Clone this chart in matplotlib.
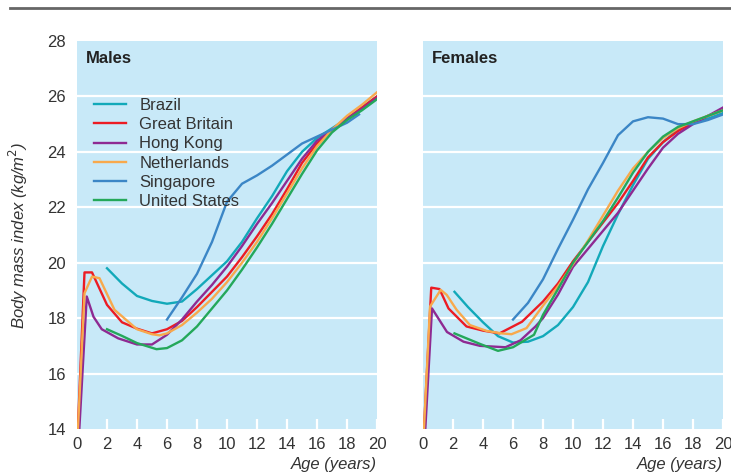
import matplotlib
matplotlib.use('Agg')
import matplotlib.pyplot as plt

# font: narrow sans like the original, fall back to DejaVu
plt.rcParams['font.family'] = ['Liberation Sans Narrow', 'Liberation Sans', 'DejaVu Sans']

countries = ['Brazil', 'Great Britain', 'Hong Kong', 'Netherlands', 'Singapore', 'United States']
colors = ['#12a9b9', '#ec1c24', '#8e2a92', '#f8a94c', '#3b86c6', '#24a85a']

# ---- males (age, bmi) ----
m_brazil_age = [2, 3, 4, 5, 6, 7, 8, 9, 10, 11, 12, 13, 14, 15, 16, 17, 18, 19, 20]
m_brazil_bmi = [19.8, 19.25, 18.8, 18.62, 18.52, 18.6, 19.05, 19.55, 20.05, 20.75, 21.6, 22.4, 23.3, 24.0, 24.5, 24.85, 25.2, 25.6, 26.0]

m_gb_age = [0, 0.5, 1.0, 2, 3, 4, 5, 6, 7, 8, 9, 10, 11, 12, 13, 14, 15, 16, 17, 18, 19, 20]
m_gb_bmi = [13.3, 19.65, 19.65, 18.48, 17.85, 17.62, 17.45, 17.6, 17.9, 18.4, 18.95, 19.5, 20.2, 20.95, 21.75, 22.65, 23.6, 24.3, 24.8, 25.2, 25.6, 26.0]

m_hk_age = [0, 0.65, 1.1, 1.65, 2.75, 4, 5, 6, 7, 8, 9, 10, 11, 12, 13, 14, 15, 16, 17, 18, 19, 20]
m_hk_bmi = [12.5, 18.78, 18.05, 17.6, 17.27, 17.05, 17.05, 17.4, 17.95, 18.6, 19.2, 19.86, 20.6, 21.4, 22.15, 22.95, 23.75, 24.4, 24.8, 25.2, 25.55, 25.95]

m_nl_age = [0, 0.5, 1.0, 1.5, 2.5, 4, 5, 5.5, 6, 7, 8, 9, 10, 11, 12, 13, 14, 15, 16, 17, 18, 19, 20]
m_nl_bmi = [13.3, 18.9, 19.5, 19.44, 18.3, 17.6, 17.42, 17.38, 17.45, 17.75, 18.2, 18.7, 19.3, 20.0, 20.75, 21.6, 22.5, 23.4, 24.2, 24.8, 25.3, 25.7, 26.15]

m_sg_age = [6, 7, 8, 9, 10, 11, 12, 13, 14, 15, 16, 17, 18, 18.8]
m_sg_bmi = [17.95, 18.75, 19.6, 20.75, 22.2, 22.85, 23.15, 23.5, 23.9, 24.3, 24.55, 24.8, 25.05, 25.35]

m_us_age = [2, 3, 4, 5.3, 6, 7, 8, 9, 10, 11, 12, 13, 14, 15, 16, 17, 18, 19, 20]
m_us_bmi = [17.6, 17.36, 17.1, 16.88, 16.92, 17.2, 17.7, 18.35, 19.0, 19.75, 20.55, 21.4, 22.3, 23.2, 24.05, 24.7, 25.15, 25.5, 25.9]

# ---- females ----
f_brazil_age = [2.1, 3, 4, 5, 6, 7, 8, 9, 10, 11, 12, 13, 14, 15, 16, 17, 18, 19, 20]
f_brazil_bmi = [18.95, 18.4, 17.85, 17.35, 17.12, 17.15, 17.35, 17.75, 18.4, 19.3, 20.6, 21.75, 22.8, 23.75, 24.35, 24.8, 25.05, 25.2, 25.4]

f_gb_age = [0, 0.55, 1.1, 1.7, 2.9, 4, 5.1, 6.6, 8, 9, 10, 11, 12, 13, 14, 15, 16, 17, 18, 19, 20]
f_gb_bmi = [13.3, 19.1, 19.05, 18.35, 17.7, 17.55, 17.45, 17.87, 18.6, 19.25, 20.05, 20.75, 21.45, 22.15, 22.95, 23.8, 24.35, 24.75, 25.05, 25.3, 25.5]

f_hk_age = [0, 0.6, 1.6, 2.7, 3.8, 5.5, 6.5, 7.5, 8, 9, 10, 11, 12, 13, 14, 15, 16, 17, 18, 19, 20]
f_hk_bmi = [12.5, 18.35, 17.5, 17.15, 17.0, 16.95, 17.2, 17.7, 18.0, 18.85, 19.85, 20.5, 21.15, 21.8, 22.6, 23.4, 24.15, 24.65, 25.0, 25.3, 25.6]

f_nl_age = [0, 0.47, 1.18, 1.58, 2.24, 3.13, 4.24, 5.24, 5.9, 6.9, 8, 9, 10, 11, 12, 13, 14, 15, 16, 17, 18, 19, 20]
f_nl_bmi = [13.3, 18.42, 19.02, 18.84, 18.3, 17.75, 17.54, 17.45, 17.42, 17.64, 18.45, 19.15, 19.95, 20.8, 21.7, 22.6, 23.4, 24.0, 24.5, 24.85, 25.1, 25.3, 25.5]

f_sg_age = [6, 7, 8, 9, 10, 11, 12, 13, 14, 15, 16, 17, 18, 19, 20]
f_sg_bmi = [17.95, 18.55, 19.4, 20.5, 21.55, 22.65, 23.6, 24.6, 25.1, 25.25, 25.2, 25.0, 25.0, 25.15, 25.35]

f_us_age = [2.1, 3.8, 5.0, 6.0, 7.4, 8, 9, 10, 11, 12, 13, 14, 15, 16, 17, 18, 19, 20]
f_us_bmi = [17.45, 17.07, 16.82, 16.95, 17.4, 18.12, 19.05, 20.0, 20.75, 21.5, 22.35, 23.25, 24.0, 24.55, 24.9, 25.1, 25.3, 25.5]

males = [(m_brazil_age, m_brazil_bmi), (m_gb_age, m_gb_bmi), (m_hk_age, m_hk_bmi),
         (m_nl_age, m_nl_bmi), (m_sg_age, m_sg_bmi), (m_us_age, m_us_bmi)]
females = [(f_brazil_age, f_brazil_bmi), (f_gb_age, f_gb_bmi), (f_hk_age, f_hk_bmi),
           (f_nl_age, f_nl_bmi), (f_sg_age, f_sg_bmi), (f_us_age, f_us_bmi)]

bg = '#c8e9f8'
txt = '#333333'

fig = plt.figure(figsize=(7.31, 4.75), dpi=100)
ax1 = fig.add_axes([77 / 731, 46 / 475, 300 / 731, 388 / 475])
ax2 = fig.add_axes([423 / 731, 46 / 475, 300 / 731, 388 / 475])

# grey rule across the top
fig.add_artist(plt.Line2D([10 / 731, 1.0], [467 / 475, 467 / 475], color='#666666', lw=2))

for ax, data, title in [(ax1, males, 'Males'), (ax2, females, 'Females')]:
    ax.set_facecolor(bg)
    for s in ax.spines.values():
        s.set_visible(False)
    ax.set_xlim(0, 20)
    ax.set_ylim(14, 28)
    for y in [16, 18, 20, 22, 24, 26]:
        ax.axhline(y, color='white', lw=1.6, zorder=1)
    for (a, b), c, name in zip(data, colors, countries):
        ax.plot(a, b, color=c, lw=1.7, label=name, zorder=3, clip_on=True)
    ax.set_xticks(range(0, 21, 2))
    ax.tick_params(axis='x', direction='in', length=7, width=1.6, color='white',
                   labelsize=12, labelcolor=txt, pad=6)
    ax.set_yticks(range(14, 29, 2))
    ax.tick_params(axis='y', length=0, labelsize=12, labelcolor=txt, pad=8)
    ax.text(0.03, 0.975, title, transform=ax.transAxes, fontsize=12, fontweight='bold',
            color='#222222', va='top', ha='left')
    ax.text(1.0, -0.072, 'Age (years)', transform=ax.transAxes, fontsize=12, style='italic',
            color=txt, ha='right', va='top')

ax2.set_yticklabels([])
ax1.set_ylabel('Body mass index (kg/m$^2$)', fontsize=12, style='italic', color=txt, labelpad=12)

leg = ax1.legend(loc='upper left', bbox_to_anchor=(0.035, 0.87), frameon=False, fontsize=12,
                 handlelength=1.9, handletextpad=0.8, labelspacing=0.25, borderaxespad=0)
for t in leg.get_texts():
    t.set_color(txt)

fig.savefig('out.png', dpi=100)
